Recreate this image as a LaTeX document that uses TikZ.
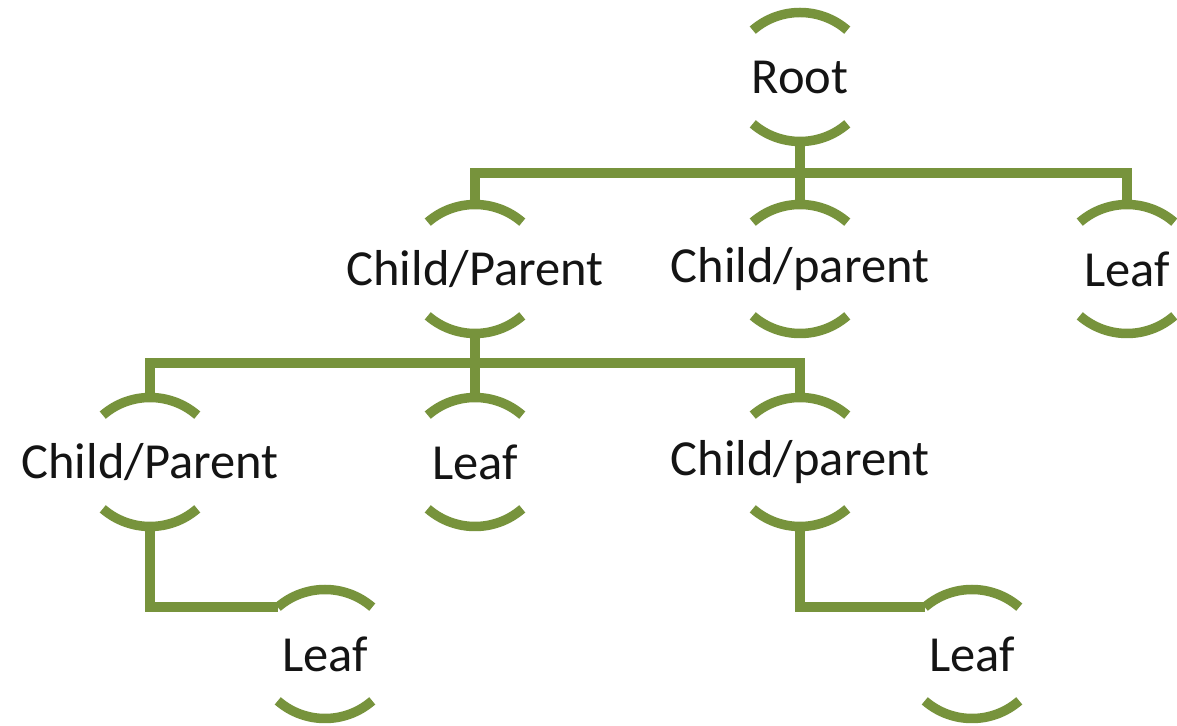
\documentclass[tikz,border=0pt]{standalone}
\usepackage{fontspec}
\setmainfont{Carlito}
\usetikzlibrary{calc}
\definecolor{treegreen}{RGB}{119,147,60}
\begin{document}
\begin{tikzpicture}[x=1pt,y=1pt,
  conn/.style={draw=treegreen,line width=9.5pt},
  bracket/.style={draw=treegreen,line width=9.5pt},
  lbl/.style={inner sep=0pt,font=\fontsize{50.5}{60}\selectfont,text=black!92}]
% arc radius, shift of each arc's circle towards the label, half height of a bracket pair
\def\R{72}
\def\off{7.5}
\def\H{64.5}
\useasboundingbox[fill=white] (0,0) rectangle (1177,725);

% labels
\node[lbl] (root) at (800,648) {Root};
\node[lbl] (cpA)  at (475,456) {Child/Parent};
\node[lbl] (cpB)  at (800,456) {Child/parent};
\node[lbl] (lfA)  at (1127,456) {Leaf};
\node[lbl] (cpC)  at (150,263) {Child/Parent};
\node[lbl] (lfB)  at (475,263) {Leaf};
\node[lbl] (cpD)  at (800,263) {Child/parent};
\node[lbl] (lfC)  at (325,71) {Leaf};
\node[lbl] (lfD)  at (972,71) {Leaf};

% arc brackets above and below each label
\foreach \n in {root,cpA,cpB,lfA,cpC,lfB,cpD,lfC,lfD}{
  \draw[bracket] ($(\n.center)+(0,-\off)+(131:\R)$) arc[start angle=131,end angle=49,radius=\R];
  \draw[bracket] ($(\n.center)+(0,\off)+(229:\R)$) arc[start angle=229,end angle=311,radius=\R];
}

% root to first level
\coordinate (barA) at ($(root.center)+(0,-96)$);
\draw[conn] ($(root.center)+(0,-\H)$) -- ($(cpB.center)+(0,\H)$);
\draw[conn] ($(cpA.center)+(0,\H)$) |- (barA) -| ($(lfA.center)+(0,\H)$);

% first level to second level
\coordinate (barB) at ($(cpA.center)+(0,-94)$);
\draw[conn] ($(cpA.center)+(0,-\H)$) -- ($(lfB.center)+(0,\H)$);
\draw[conn] ($(cpC.center)+(0,\H)$) |- (barB) -| ($(cpD.center)+(0,\H)$);

% second level to leaves, ending on the left tip of the upper arc
\draw[conn] ($(cpC.center)+(0,-\H)$) |- ($(lfC.center)+(0,-\off)+(131:\R)$);
\draw[conn] ($(cpD.center)+(0,-\H)$) |- ($(lfD.center)+(0,-\off)+(131:\R)$);
\end{tikzpicture}
\end{document}
